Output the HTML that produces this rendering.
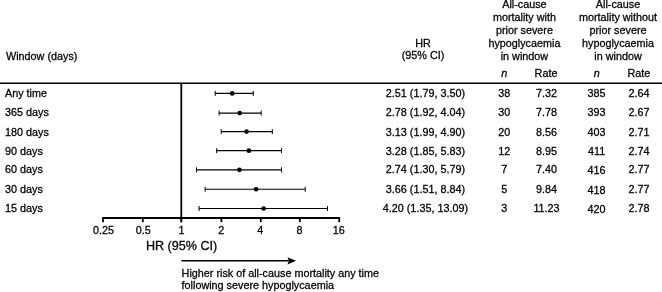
<!DOCTYPE html>
<html><head><meta charset="utf-8"><style>
html,body{margin:0;padding:0;background:#fff;width:662px;height:292px;overflow:hidden}
svg{display:block;will-change:transform}
text{font-family:"Liberation Sans",sans-serif;fill:#000;stroke:#000;stroke-width:0.28px}
</style></head><body>
<svg width="662" height="292" viewBox="0 0 662 292">
<line x1="0" y1="83.3" x2="662" y2="83.3" stroke="#000" stroke-width="1.6"/>
<line x1="181.3" y1="83" x2="181.3" y2="222.2" stroke="#000" stroke-width="1.8"/>
<line x1="102.1" y1="218" x2="340.1" y2="218" stroke="#000" stroke-width="1.8"/>
<line x1="103.00" y1="218" x2="103.00" y2="222.2" stroke="#000" stroke-width="1.8"/>
<line x1="142.80" y1="218" x2="142.80" y2="222.2" stroke="#000" stroke-width="1.8"/>
<line x1="181.30" y1="218" x2="181.30" y2="222.2" stroke="#000" stroke-width="1.8"/>
<line x1="221.40" y1="218" x2="221.40" y2="222.2" stroke="#000" stroke-width="1.8"/>
<line x1="260.80" y1="218" x2="260.80" y2="222.2" stroke="#000" stroke-width="1.8"/>
<line x1="299.80" y1="218" x2="299.80" y2="222.2" stroke="#000" stroke-width="1.8"/>
<line x1="339.20" y1="218" x2="339.20" y2="222.2" stroke="#000" stroke-width="1.8"/>
<line x1="215.20" y1="93.40" x2="253.30" y2="93.40" stroke="#000" stroke-width="1.15"/>
<line x1="215.20" y1="90.90" x2="215.20" y2="95.90" stroke="#000" stroke-width="1"/>
<line x1="253.30" y1="90.90" x2="253.30" y2="95.90" stroke="#000" stroke-width="1"/>
<circle cx="232.20" cy="93.40" r="2.35" fill="#000"/>
<line x1="219.10" y1="113.05" x2="261.20" y2="113.05" stroke="#000" stroke-width="1.15"/>
<line x1="219.10" y1="110.55" x2="219.10" y2="115.55" stroke="#000" stroke-width="1"/>
<line x1="261.20" y1="110.55" x2="261.20" y2="115.55" stroke="#000" stroke-width="1"/>
<circle cx="239.70" cy="113.05" r="2.35" fill="#000"/>
<line x1="221.20" y1="131.60" x2="272.30" y2="131.60" stroke="#000" stroke-width="1.15"/>
<line x1="221.20" y1="129.10" x2="221.20" y2="134.10" stroke="#000" stroke-width="1"/>
<line x1="272.30" y1="129.10" x2="272.30" y2="134.10" stroke="#000" stroke-width="1"/>
<circle cx="246.55" cy="131.60" r="2.35" fill="#000"/>
<line x1="216.65" y1="150.65" x2="281.50" y2="150.65" stroke="#000" stroke-width="1.15"/>
<line x1="216.65" y1="148.15" x2="216.65" y2="153.15" stroke="#000" stroke-width="1"/>
<line x1="281.50" y1="148.15" x2="281.50" y2="153.15" stroke="#000" stroke-width="1"/>
<circle cx="248.90" cy="150.65" r="2.35" fill="#000"/>
<line x1="196.50" y1="169.80" x2="281.50" y2="169.80" stroke="#000" stroke-width="1.15"/>
<line x1="196.50" y1="167.30" x2="196.50" y2="172.30" stroke="#000" stroke-width="1"/>
<line x1="281.50" y1="167.30" x2="281.50" y2="172.30" stroke="#000" stroke-width="1"/>
<circle cx="239.50" cy="169.80" r="2.35" fill="#000"/>
<line x1="205.15" y1="189.25" x2="305.20" y2="189.25" stroke="#000" stroke-width="1.15"/>
<line x1="205.15" y1="186.75" x2="205.15" y2="191.75" stroke="#000" stroke-width="1"/>
<line x1="305.20" y1="186.75" x2="305.20" y2="191.75" stroke="#000" stroke-width="1"/>
<circle cx="256.10" cy="189.25" r="2.35" fill="#000"/>
<line x1="199.10" y1="208.50" x2="327.50" y2="208.50" stroke="#000" stroke-width="1.15"/>
<line x1="199.10" y1="206.00" x2="199.10" y2="211.00" stroke="#000" stroke-width="1"/>
<line x1="327.50" y1="206.00" x2="327.50" y2="211.00" stroke="#000" stroke-width="1"/>
<circle cx="263.60" cy="208.50" r="2.35" fill="#000"/>
<line x1="181.4" y1="260.8" x2="290" y2="260.8" stroke="#000" stroke-width="1.5"/>
<polygon points="296.1,260.8 287.4,257.2 289.1,260.8 287.4,264.4" fill="#000"/>
<text x="6.00" y="59.60" text-anchor="start" font-size="10.8">Window (days)</text>
<text x="423.00" y="46.50" text-anchor="middle" font-size="10.8">HR</text>
<text x="423.00" y="58.50" text-anchor="middle" font-size="10.8">(95% CI)</text>
<text x="524.40" y="8.00" text-anchor="middle" font-size="10.8">All-cause</text>
<text x="524.40" y="21.00" text-anchor="middle" font-size="10.8">mortality with</text>
<text x="524.40" y="34.00" text-anchor="middle" font-size="10.8">prior severe</text>
<text x="524.40" y="47.00" text-anchor="middle" font-size="10.8">hypoglycaemia</text>
<text x="524.40" y="60.00" text-anchor="middle" font-size="10.8">in window</text>
<text x="618.00" y="8.00" text-anchor="middle" font-size="10.8">All-cause</text>
<text x="618.00" y="21.00" text-anchor="middle" font-size="10.8">mortality without</text>
<text x="618.00" y="34.00" text-anchor="middle" font-size="10.8">prior severe</text>
<text x="618.00" y="47.00" text-anchor="middle" font-size="10.8">hypoglycaemia</text>
<text x="618.00" y="60.00" text-anchor="middle" font-size="10.8">in window</text>
<text x="504.20" y="76.70" text-anchor="middle" font-size="10.8" font-style="italic">n</text>
<text x="546.00" y="76.70" text-anchor="middle" font-size="10.8">Rate</text>
<text x="596.70" y="76.70" text-anchor="middle" font-size="10.8" font-style="italic">n</text>
<text x="638.80" y="76.70" text-anchor="middle" font-size="10.8">Rate</text>
<text x="103.50" y="234.00" text-anchor="middle" font-size="10.8">0.25</text>
<text x="143.20" y="234.00" text-anchor="middle" font-size="10.8">0.5</text>
<text x="181.60" y="234.00" text-anchor="middle" font-size="10.8">1</text>
<text x="221.30" y="234.00" text-anchor="middle" font-size="10.8">2</text>
<text x="260.20" y="234.00" text-anchor="middle" font-size="10.8">4</text>
<text x="299.60" y="234.00" text-anchor="middle" font-size="10.8">8</text>
<text x="338.70" y="234.00" text-anchor="middle" font-size="10.8">16</text>
<text x="5.00" y="96.80" text-anchor="start" font-size="10.8">Any time</text>
<text x="425.40" y="96.80" text-anchor="middle" font-size="10.8">2.51 (1.79, 3.50)</text>
<text x="504.20" y="96.80" text-anchor="middle" font-size="10.8">38</text>
<text x="546.50" y="96.80" text-anchor="middle" font-size="10.8">7.32</text>
<text x="596.60" y="96.80" text-anchor="middle" font-size="10.8">385</text>
<text x="639.00" y="96.80" text-anchor="middle" font-size="10.8">2.64</text>
<text x="5.00" y="115.60" text-anchor="start" font-size="10.8">365 days</text>
<text x="425.40" y="115.60" text-anchor="middle" font-size="10.8">2.78 (1.92, 4.04)</text>
<text x="504.20" y="115.60" text-anchor="middle" font-size="10.8">30</text>
<text x="546.50" y="115.60" text-anchor="middle" font-size="10.8">7.78</text>
<text x="596.60" y="115.60" text-anchor="middle" font-size="10.8">393</text>
<text x="639.00" y="115.60" text-anchor="middle" font-size="10.8">2.67</text>
<text x="5.00" y="135.90" text-anchor="start" font-size="10.8">180 days</text>
<text x="425.40" y="135.90" text-anchor="middle" font-size="10.8">3.13 (1.99, 4.90)</text>
<text x="504.20" y="135.90" text-anchor="middle" font-size="10.8">20</text>
<text x="546.50" y="135.90" text-anchor="middle" font-size="10.8">8.56</text>
<text x="596.60" y="135.90" text-anchor="middle" font-size="10.8">403</text>
<text x="639.00" y="135.90" text-anchor="middle" font-size="10.8">2.71</text>
<text x="5.00" y="154.70" text-anchor="start" font-size="10.8">90 days</text>
<text x="425.40" y="154.70" text-anchor="middle" font-size="10.8">3.28 (1.85, 5.83)</text>
<text x="504.20" y="154.70" text-anchor="middle" font-size="10.8">12</text>
<text x="546.50" y="154.70" text-anchor="middle" font-size="10.8">8.95</text>
<text x="596.60" y="154.70" text-anchor="middle" font-size="10.8">411</text>
<text x="639.00" y="154.70" text-anchor="middle" font-size="10.8">2.74</text>
<text x="5.00" y="173.40" text-anchor="start" font-size="10.8">60 days</text>
<text x="425.40" y="173.40" text-anchor="middle" font-size="10.8">2.74 (1.30, 5.79)</text>
<text x="504.20" y="173.40" text-anchor="middle" font-size="10.8">7</text>
<text x="546.50" y="173.40" text-anchor="middle" font-size="10.8">7.40</text>
<text x="596.60" y="174.40" text-anchor="middle" font-size="10.8">416</text>
<text x="639.00" y="173.40" text-anchor="middle" font-size="10.8">2.77</text>
<text x="5.00" y="192.80" text-anchor="start" font-size="10.8">30 days</text>
<text x="425.40" y="192.80" text-anchor="middle" font-size="10.8">3.66 (1.51, 8.84)</text>
<text x="504.20" y="192.80" text-anchor="middle" font-size="10.8">5</text>
<text x="546.50" y="192.80" text-anchor="middle" font-size="10.8">9.84</text>
<text x="596.60" y="193.80" text-anchor="middle" font-size="10.8">418</text>
<text x="639.00" y="192.80" text-anchor="middle" font-size="10.8">2.77</text>
<text x="5.00" y="211.70" text-anchor="start" font-size="10.8">15 days</text>
<text x="425.40" y="211.70" text-anchor="middle" font-size="10.8">4.20 (1.35, 13.09)</text>
<text x="504.20" y="211.70" text-anchor="middle" font-size="10.8">3</text>
<text x="546.50" y="211.70" text-anchor="middle" font-size="10.8">11.23</text>
<text x="596.60" y="212.70" text-anchor="middle" font-size="10.8">420</text>
<text x="639.00" y="211.70" text-anchor="middle" font-size="10.8">2.78</text>
<text x="145.90" y="250.00" text-anchor="start" font-size="12.6">HR (95% CI)</text>
<text x="181.60" y="276.50" text-anchor="start" font-size="10.8">Higher risk of all-cause mortality any time</text>
<text x="181.60" y="288.50" text-anchor="start" font-size="10.8">following severe hypoglycaemia</text>
</svg>
</body></html>
